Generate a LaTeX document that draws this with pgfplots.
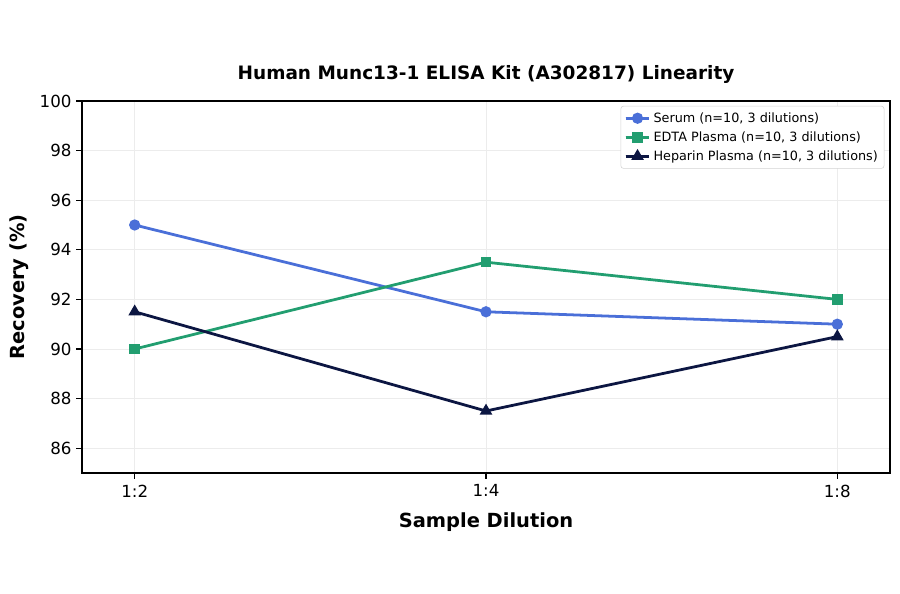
\documentclass[border=0pt]{standalone}
\usepackage{pgfplots}
\pgfplotsset{compat=1.18}
\usepackage{fontspec}
\setmainfont{DejaVu Sans}
\definecolor{serumc}{HTML}{4A6FD8}
\definecolor{edtac}{HTML}{229E70}
\definecolor{hepc}{HTML}{0C1642}
\begin{document}
\begin{tikzpicture}
\useasboundingbox (0,0) rectangle (648pt,427.68pt);
\begin{axis}[
  at={(59.04pt,87.12pt)}, anchor=south west,
  scale only axis, width=581.76pt, height=267.84pt,
  xmin=-0.15, xmax=2.15, ymin=85, ymax=100,
  xtick={0,1,2}, xticklabels={1:2,1:4,1:8},
  ytick={86,88,...,100},
  xtick pos=left, ytick pos=left,
  /pgf/number format/assume math mode=true,
  tick label style={font=\fontsize{12}{14}\selectfont},
  xticklabel style={yshift=-1pt},
  tick style={black, line width=0.8pt},
  tick align=outside, major tick length=4pt,
  axis line style={line width=0.9pt},
  grid=major, grid style={gray!15, line width=0.5pt},
  title={\textbf{Human Munc13-1 ELISA Kit (A302817) Linearity}},
  title style={font=\fontsize{13.3}{15}\selectfont, yshift=3pt},
  xlabel={\textbf{Sample Dilution}},
  ylabel={\textbf{Recovery (\%)}},
  label style={font=\fontsize{14}{16}\selectfont},
  xlabel style={yshift=-4pt},
  ylabel style={yshift=1pt},
  legend style={at={(0.993,0.987)}, anchor=north east, draw=gray!35, rounded corners=2pt,
    font=\fontsize{9.2}{11}\selectfont, row sep=1.2pt, inner sep=2.5pt},
  legend cell align=left,
  legend image code/.code={\draw[#1] (0pt,0pt) -- (0.6cm,0pt); \draw[#1, mark repeat=2, mark phase=2] plot coordinates {(0pt,0pt) (0.3cm,0pt) (0.6cm,0pt)};},
]
\addplot[color=serumc, line width=2pt, mark=*, mark size=3pt] coordinates {(0,95) (1,91.5) (2,91)};
\addlegendentry{Serum (n=10, 3 dilutions)}
\addplot[color=edtac, line width=2pt, mark=square*, mark size=2.8pt] coordinates {(0,90) (1,93.5) (2,92)};
\addlegendentry{EDTA Plasma (n=10, 3 dilutions)}
\addplot[color=hepc, line width=2pt, mark=triangle*, mark size=3.3pt] coordinates {(0,91.5) (1,87.5) (2,90.5)};
\addlegendentry{Heparin Plasma (n=10, 3 dilutions)}
\end{axis}
\end{tikzpicture}
\end{document}
